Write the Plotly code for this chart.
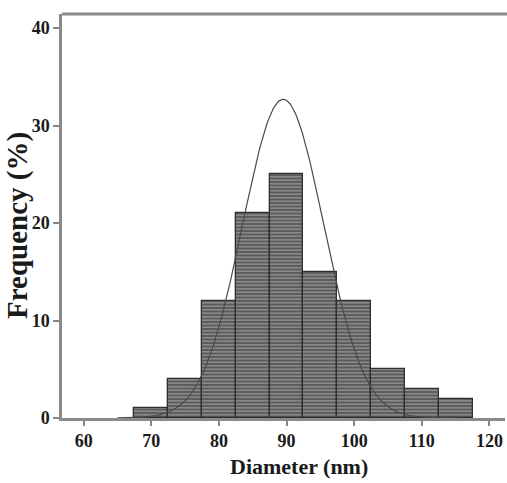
import numpy as np
import plotly.graph_objects as go

# Histogram data (bin centres in nm, frequency in %)
bin_centers = [70, 75, 80, 85, 90, 95, 100, 105, 110, 115]
frequency = [1, 4, 12, 21, 25, 15, 12, 5, 3, 2]
bin_width = 5

# Fitted normal curve parameters
fit_mean = 89.5
fit_sigma = 6.0
fit_peak = 32.7
fit_x_start, fit_x_end = 65, 116

x_ticks = [60, 70, 80, 90, 100, 110, 120]
y_ticks = [0, 10, 20, 30, 40]

xc = np.linspace(fit_x_start, fit_x_end, 400)
yc = fit_peak * np.exp(-0.5 * ((xc - fit_mean) / fit_sigma) ** 2)

font_family = "Liberation Serif, Times New Roman, serif"
title_color = "#1a1a1a"

R = 2
plot_w = 507 - 62 - R
plot_h = 483 - 14 - 65

fig = go.Figure()
fig.add_trace(go.Bar(
    x=bin_centers, y=frequency, width=bin_width,
    marker=dict(
        color="#5e5e5e",
        line=dict(color="#2e2e2e", width=1.3),
        pattern=dict(shape="-", fgcolor="#a8a8a8", bgcolor="#5a5a5a",
                     size=3.5, solidity=0.3, fillmode="replace"),
    ),
    showlegend=False,
))
fig.add_trace(go.Scatter(
    x=xc, y=yc, mode="lines",
    line=dict(color="#4a4a4a", width=1.2),
    showlegend=False,
))

fig.update_layout(
    width=507, height=483,
    margin=dict(l=62, r=R, t=14, b=65, pad=0),
    plot_bgcolor="white", paper_bgcolor="white",
    bargap=0,
    xaxis=dict(
        range=[56.8, 122.3], tickvals=x_ticks,
        ticks="outside", ticklen=5, tickwidth=1.5, tickcolor="#888888",
        showline=True, linecolor="#8a8a8a", linewidth=2.5, mirror=False,
        showgrid=False, zeroline=False,
        tickfont=dict(family=font_family, size=18, color=title_color, weight="bold"),
    ),
    yaxis=dict(
        range=[0, 41.45], tickvals=y_ticks,
        ticks="outside", ticklen=6, tickwidth=1.5, tickcolor="#888888",
        showline=True, linecolor="#8a8a8a", linewidth=2.5, mirror=False,
        showgrid=False, zeroline=False,
        tickfont=dict(family=font_family, size=18, color=title_color, weight="bold"),
    ),
    shapes=[
        dict(type="rect", xref="paper", yref="paper", x0=1 - 6 / plot_w, x1=1 + R / plot_w,
             y0=0.004, y1=0.995, fillcolor="white", line=dict(width=0), layer="above"),
        dict(type="line", xref="paper", yref="paper", x0=0, x1=1 + R / plot_w,
             y0=1, y1=1, line=dict(color="#8a8a8a", width=3), layer="above"),
    ],
    annotations=[
        dict(text="Diameter (nm)", xref="paper", yref="paper", x=(299 - 62) / plot_w,
             y=-(467 - 418) / plot_h, xanchor="center", yanchor="middle", showarrow=False,
             font=dict(family=font_family, size=22, color=title_color, weight="bold")),
        dict(text="Frequency (%)", xref="paper", yref="paper", x=-(62 - 17) / plot_w,
             y=(418 - 226) / plot_h, xanchor="center", yanchor="middle", showarrow=False,
             textangle=-90,
             font=dict(family=font_family, size=29, color=title_color, weight="bold")),
    ],
)

fig.write_html("out.html")
